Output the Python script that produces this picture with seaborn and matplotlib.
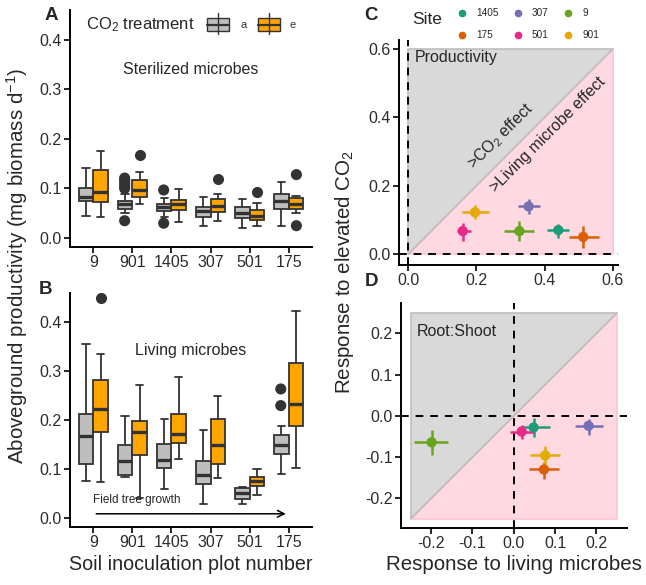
import numpy as np
import pandas as pd
import matplotlib
matplotlib.use("Agg")
import matplotlib.pyplot as plt
from matplotlib.patches import Rectangle, Polygon
from matplotlib.lines import Line2D
import seaborn as sns

sns.set_theme(style="ticks")
plt.rcParams['font.family'] = ['Liberation Sans', 'DejaVu Sans']
plt.rcParams['mathtext.fontset'] = 'custom'
plt.rcParams['mathtext.rm'] = 'Liberation Sans'
plt.rcParams['mathtext.it'] = 'Liberation Sans:italic'

# ---------------- data ----------------
plots = ["9", "901", "1405", "307", "501", "175"]
treatments = ["a", "e"]

# five-number summaries [low whisker, q1, median, q3, high whisker]
steril_a = [[0.045, 0.074, 0.083, 0.102, 0.142],
            [0.050, 0.058, 0.068, 0.075, 0.088],
            [0.042, 0.055, 0.062, 0.068, 0.080],
            [0.025, 0.042, 0.054, 0.062, 0.083],
            [0.020, 0.040, 0.050, 0.062, 0.078],
            [0.025, 0.058, 0.075, 0.088, 0.113]]
steril_e = [[0.043, 0.073, 0.092, 0.137, 0.175],
            [0.068, 0.082, 0.097, 0.117, 0.133],
            [0.032, 0.056, 0.068, 0.077, 0.098],
            [0.035, 0.052, 0.065, 0.078, 0.088],
            [0.025, 0.037, 0.045, 0.057, 0.070],
            [0.050, 0.058, 0.068, 0.080, 0.085]]
steril_out_a = [[], [0.035, 0.100, 0.105, 0.110, 0.116, 0.121], [0.030, 0.097], [], [], []]
steril_out_e = [[], [0.168], [], [0.119], [0.092], [0.128, 0.025]]

living_a = [[0.075, 0.111, 0.167, 0.212, 0.356],
            [0.084, 0.088, 0.117, 0.149, 0.209],
            [0.059, 0.103, 0.119, 0.152, 0.203],
            [0.030, 0.069, 0.088, 0.117, 0.181],
            [0.028, 0.039, 0.051, 0.061, 0.064],
            [0.090, 0.131, 0.150, 0.169, 0.189]]
living_e = [[0.073, 0.176, 0.223, 0.283, 0.336],
            [0.042, 0.129, 0.176, 0.198, 0.272],
            [0.121, 0.154, 0.172, 0.213, 0.289],
            [0.083, 0.111, 0.149, 0.202, 0.249],
            [0.047, 0.066, 0.076, 0.084, 0.101],
            [0.103, 0.189, 0.233, 0.316, 0.423]]
living_out_a = [[], [], [], [], [], [0.264, 0.230]]
living_out_e = [[0.449], [], [], [], [], []]

sites = ["1405", "307", "9", "175", "501", "901"]
site_colors = ["#1B9E77", "#7570B3", "#66A61E", "#D95F02", "#E7298A", "#E6AB02"]

# panel C: productivity (x = response to living microbes, y = response to elevated CO2)
c_x = [0.440, 0.353, 0.326, 0.513, 0.160, 0.196]
c_x_lo = [0.408, 0.323, 0.282, 0.470, 0.144, 0.157]
c_x_hi = [0.470, 0.386, 0.369, 0.559, 0.183, 0.236]
c_y = [0.071, 0.140, 0.068, 0.051, 0.068, 0.123]
c_y_lo = [0.047, 0.118, 0.040, 0.020, 0.040, 0.103]
c_y_hi = [0.088, 0.162, 0.097, 0.083, 0.092, 0.144]

# panel D: root:shoot
d_x = [0.048, 0.181, -0.199, 0.073, 0.019, 0.076]
d_x_lo = [0.019, 0.149, -0.241, 0.037, -0.009, 0.040]
d_x_hi = [0.088, 0.216, -0.160, 0.109, 0.048, 0.112]
d_y = [-0.028, -0.024, -0.064, -0.130, -0.038, -0.096]
d_y_lo = [-0.052, -0.046, -0.095, -0.153, -0.057, -0.119]
d_y_hi = [-0.006, -0.008, -0.034, -0.111, -0.022, -0.072]

# ---------------- helpers ----------------
W, H = 646, 585
fig = plt.figure(figsize=(W / 100, H / 100), dpi=100)

TICK_FS = 11.5
TITLE_FS = 14.8


def ax_px(left, top, right, bottom):
    return fig.add_axes([left / W, 1 - bottom / H, (right - left) / W, (bottom - top) / H])


def long_df(summ_a, summ_e):
    rows = []
    for i, p in enumerate(plots):
        for t, summ in zip(treatments, (summ_a, summ_e)):
            for v in summ[i]:
                rows.append((p, t, v))
    return pd.DataFrame(rows, columns=["plot", "co2", "val"])


box_pal = {"a": "#BEBEBE", "e": "#FFA500"}
edge = "#333333"


def style_axis(ax):
    sns.despine(ax=ax)
    for s in ("left", "bottom"):
        ax.spines[s].set_linewidth(1.4)
        ax.spines[s].set_color("black")
    ax.tick_params(axis="both", length=4, width=1.2, color="black",
                   labelsize=TICK_FS, labelcolor="#2b2b2b", pad=2)
    ax.set_facecolor("none")


def draw_box_panel(ax, summ_a, summ_e, out_a, out_e):
    df = long_df(summ_a, summ_e)
    sns.boxplot(data=df, x="plot", y="val", hue="co2", order=plots,
                hue_order=treatments, palette=box_pal, whis=(0, 100),
                width=0.75, gap=0, fliersize=0, linewidth=1.3, saturation=1,
                linecolor=edge, legend=False, ax=ax,
                medianprops=dict(linewidth=2.4, color=edge))
    odf = long_df(out_a, out_e)
    sns.stripplot(data=odf, x="plot", y="val", hue="co2", order=plots,
                  hue_order=treatments, dodge=True, jitter=False,
                  palette={"a": edge, "e": edge}, size=8, linewidth=0,
                  legend=False, ax=ax)
    ax.set_xlim(-0.6, 5.6)
    ax.set_ylim(-0.018, 0.46)
    ax.set_yticks([0.0, 0.1, 0.2, 0.3, 0.4])
    ax.set_yticklabels(["0.0", "0.1", "0.2", "0.3", "0.4"])
    ax.set_xlabel("")
    ax.set_ylabel("")
    style_axis(ax)


# ---------------- panel A ----------------
axA = ax_px(70, 10, 312, 247)
draw_box_panel(axA, steril_a, steril_e, steril_out_a, steril_out_e)
axA.text(2.5, 0.341, "Sterilized microbes", ha="center", va="center", fontsize=11.5)

# ---------------- panel B ----------------
axB = ax_px(70, 293, 312, 527)
draw_box_panel(axB, living_a, living_e, living_out_a, living_out_e)
axB.text(2.5, 0.343, "Living microbes", ha="center", va="center", fontsize=11.5)
axB.annotate("", xy=(5, 0.009), xytext=(0, 0.009),
             arrowprops=dict(arrowstyle="->", color="black", lw=1.1))
axB.text(0, 0.024, "Field tree growth", ha="left", va="bottom", fontsize=8.5)
axB.set_xlabel("Soil inoculation plot number", fontsize=14.2, labelpad=3)

# ---------------- panels C & D ----------------
def draw_scatter_panel(ax, lo, hi, xs, xlo, xhi, ys, ylo, yhi, lim, ticks, ticklabels):
    ax.add_patch(Polygon([[lo, lo], [lo, hi], [hi, hi]], closed=True,
                         facecolor="#D9D9D9", edgecolor="#BEBEBE", lw=1.2, zorder=0))
    ax.add_patch(Polygon([[lo, lo], [hi, lo], [hi, hi]], closed=True,
                         facecolor="#FFD9E2", edgecolor="#FFC4D2", lw=1.2, zorder=0))
    ax.plot([lo, hi], [lo, hi], color="#BEBEBE", lw=1.2, zorder=1)
    ax.axvline(0, color="black", lw=1.4, ls=(0, (4, 3.5)), zorder=2)
    ax.axhline(0, color="black", lw=1.4, ls=(0, (4, 3.5)), zorder=2)
    for i in range(len(sites)):
        ax.errorbar(xs[i], ys[i],
                    xerr=[[xs[i] - xlo[i]], [xhi[i] - xs[i]]],
                    yerr=[[ys[i] - ylo[i]], [yhi[i] - ys[i]]],
                    fmt="none", ecolor=site_colors[i], elinewidth=1.8, capsize=0, zorder=3)
    sdf = pd.DataFrame({"site": sites, "x": xs, "y": ys})
    sns.scatterplot(data=sdf, x="x", y="y", hue="site", hue_order=sites,
                    palette=dict(zip(sites, site_colors)), s=55, linewidth=0,
                    legend=False, ax=ax, zorder=4)
    ax.set_xlim(*lim[0])
    ax.set_ylim(*lim[1])
    ax.set_xticks(ticks[0])
    ax.set_xticklabels(ticklabels[0])
    ax.set_yticks(ticks[1])
    ax.set_yticklabels(ticklabels[1])
    ax.set_xlabel("")
    ax.set_ylabel("")
    style_axis(ax)


axC = ax_px(399, 40, 618, 265)
draw_scatter_panel(axC, 0.0, 0.6, c_x, c_x_lo, c_x_hi, c_y, c_y_lo, c_y_hi,
                   ((-0.027, 0.615), (-0.031, 0.626)),
                   ([0.0, 0.2, 0.4, 0.6], [0.0, 0.2, 0.4, 0.6]),
                   (["0.0", "0.2", "0.4", "0.6"], ["0.0", "0.2", "0.4", "0.6"]))
axC.text(0.02, 0.575, "Productivity", ha="left", va="center", fontsize=11.5)
axC.text(0.27, 0.345, ">CO$_2$ effect", rotation=45, ha="center", va="center",
         rotation_mode="anchor", fontsize=11.5)
axC.text(0.41, 0.35, ">Living microbe effect", rotation=45, ha="center", va="center",
         rotation_mode="anchor", fontsize=11.5)

axD = ax_px(401, 303, 627, 528)
draw_scatter_panel(axD, -0.25, 0.25, d_x, d_x_lo, d_x_hi, d_y, d_y_lo, d_y_hi,
                   ((-0.273, 0.274), (-0.272, 0.274)),
                   ([-0.2, -0.1, 0.0, 0.1, 0.2], [-0.2, -0.1, 0.0, 0.1, 0.2]),
                   (["-0.2", "-0.1", "0.0", "0.1", "0.2"], ["-0.2", "-0.1", "0.0", "0.1", "0.2"]))
axD.text(-0.235, 0.205, "Root:Shoot", ha="left", va="center", fontsize=11.5)
axD.set_xlabel("Response to living microbes", fontsize=TITLE_FS, labelpad=3)

# ---------------- shared labels ----------------
fig.text(17 / W, 1 - 266 / H, "Aboveground productivity (mg biomass d$^{-1}$)",
         rotation=90, ha="center", va="center", fontsize=TITLE_FS)
fig.text(344 / W, 1 - 272 / H, "Response to elevated CO$_2$",
         rotation=90, ha="center", va="center", fontsize=TITLE_FS)

for lab, (x, y) in zip("ABCD", [(51, 15), (46, 290), (371, 15), (372, 281)]):
    fig.text(x / W, 1 - y / H, lab, ha="center", va="center", fontsize=13.5, fontweight="bold")

# ---------------- CO2 legend ----------------
fig.text(86 / W, 1 - 25 / H, "CO$_2$ treatment", ha="left", va="center", fontsize=12)


def box_key(x0, color):
    # small box glyph in pixel units
    def fx(v):
        return v / W

    def fy(v):
        return 1 - v / H
    fig.add_artist(Line2D([fx(x0 + 11), fx(x0 + 11)], [fy(13), fy(34)],
                          color=edge, lw=1.0, transform=fig.transFigure))
    fig.add_artist(Rectangle((fx(x0), fy(31)), 22 / W, 13 / H, facecolor=color,
                             edgecolor=edge, lw=1.0, transform=fig.transFigure))
    fig.add_artist(Line2D([fx(x0), fx(x0 + 22)], [fy(24.5), fy(24.5)],
                          color=edge, lw=1.6, transform=fig.transFigure))


box_key(207, box_pal["a"])
fig.text(244 / W, 1 - 25 / H, "a", ha="center", va="center", fontsize=8, color="#333333")
box_key(258, box_pal["e"])
fig.text(293 / W, 1 - 25 / H, "e", ha="center", va="center", fontsize=8, color="#333333")

# ---------------- Site legend ----------------
fig.text(412 / W, 1 - 20 / H, "Site", ha="left", va="center", fontsize=12.5)
order = [0, 3, 1, 4, 2, 5]
handles = [Line2D([], [], marker="o", ls="", color=site_colors[i], markersize=4.5) for i in order]
labels = [sites[i] for i in order]
fig.legend(handles, labels, ncol=3, frameon=False, fontsize=7.2,
           loc="upper left", bbox_to_anchor=(449 / W, 1 - 0 / H),
           handlelength=1.0, handletextpad=0.9, columnspacing=1.45,
           labelspacing=1.25, borderpad=0.3)

fig.savefig("out.png", dpi=100)
